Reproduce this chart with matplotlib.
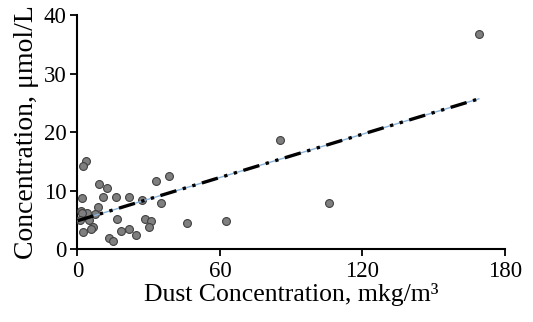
import numpy as np
import matplotlib
matplotlib.use("Agg")
import matplotlib.pyplot as plt

plt.rcParams['font.family'] = ['Liberation Serif', 'DejaVu Serif']

# dust concentration (mkg/m3) vs concentration (umol/L)
dust = [3.4, 2.5, 8.9, 12.6, 2.0, 10.6, 16.1, 21.5, 27.2, 8.6, 33.0, 38.7, 35.2,
        1.3, 3.9, 2.0, 7.4, 4.7, 1.1, 16.5, 28.3, 30.8, 30.0, 46.2, 62.4, 6.4,
        5.6, 2.5, 18.2, 21.5, 24.8, 13.1, 15.1, 85.1, 105.9, 169.0]
conc = [15.1, 14.3, 11.1, 10.5, 8.7, 9.0, 9.0, 8.9, 8.5, 7.3, 11.6, 12.5, 7.9,
        6.6, 6.3, 6.2, 6.0, 5.0, 5.0, 5.2, 5.2, 4.9, 3.8, 4.5, 4.9, 3.8,
        3.5, 3.0, 3.2, 3.5, 2.5, 1.9, 1.5, 18.7, 7.9, 36.8]

# linear trend, end points
trend_x = [0, 169]
trend_y = [4.9, 25.7]

x_ticks = [0, 60, 120, 180]
y_ticks = [0, 10, 20, 30, 40]

fig = plt.figure(figsize=(5.33, 3.22), dpi=100)
ax = fig.add_axes([0.1454, 0.2252, 0.802, 0.7282])

ax.scatter(dust, conc, s=32, c='#7f7f7f', edgecolors='#404040', linewidths=0.8, zorder=3)
ax.plot(trend_x, trend_y, color='#8ab4dc', lw=1.0, zorder=4)
ax.plot(trend_x, trend_y, color='black', lw=2.4, dashes=(5, 2, 1, 2, 1, 2), zorder=5)

ax.set_xlim(0, 180)
ax.set_ylim(0, 40)
ax.set_xticks(x_ticks)
ax.set_yticks(y_ticks)
ax.tick_params(labelsize=16.5, width=1.3, length=5, direction='out', color='black', pad=3)
ax.spines['top'].set_visible(False)
ax.spines['right'].set_visible(False)
ax.spines['left'].set_linewidth(1.5)
ax.spines['bottom'].set_linewidth(1.5)

ax.set_xlabel('Dust Concentration, mkg/m³', fontsize=18.5, labelpad=1)
ax.set_ylabel('Concentration, μmol/L', fontsize=20, labelpad=3)

fig.savefig('out.png', dpi=100)
